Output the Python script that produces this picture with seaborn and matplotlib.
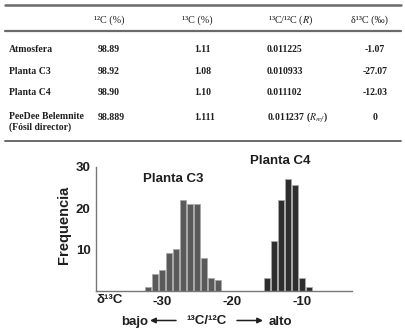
import matplotlib
matplotlib.use("Agg")
import matplotlib.pyplot as plt
from matplotlib.lines import Line2D
from matplotlib.patches import FancyArrowPatch
import seaborn as sns
import pandas as pd

# Isotope table
col_headers = ["\u00b9\u00b2C (%)", "\u00b9\u00b3C (%)", "\u00b9\u00b3C/\u00b9\u00b2C ($R$)", "\u03b4\u00b9\u00b3C (\u2030)"]
row_labels = ["Atmosfera", "Planta C3", "Planta C4", "PeeDee Belemnite\n(F\u00f3sil director)"]
c12_pct = ["98.89", "98.92", "98.90", "98.889"]
c13_pct = ["1.11", "1.08", "1.10", "1.111"]
ratio_r = ["0.011225", "0.010933", "0.011102", "0.011237 ($R_{ref}$)"]
delta13 = ["-1.07", "-27.07", "-12.03", "0"]

# Histogram of delta13C values (1 per-mil bins)
c3_bins = [-32, -31, -30, -29, -28, -27, -26, -25, -24, -23, -22]
c3_freq = [1, 4, 5, 9, 10, 22, 21, 21, 8, 3, 2.5]
c4_bins = [-15, -14, -13, -12, -11, -10, -9]
c4_freq = [3, 12, 22, 27, 25.5, 3, 1]
x_ticks = [-30, -20, -10]
y_ticks = [10, 20, 30]

W, H = 406, 334
sns.set_theme(style="white")
plt.rcParams["mathtext.fontset"] = "stix"
plt.rcParams["axes.unicode_minus"] = False
plt.rcParams["font.family"] = ["Liberation Sans", "DejaVu Sans"]

fig = plt.figure(figsize=(W / 100, H / 100), dpi=100)
fig.patch.set_facecolor("white")


def fx(px):
    return px / W


def fy(py):
    return 1 - py / H


serif = ["Liberation Serif", "DejaVu Serif"]
tcol = "#1e1e1e"

# table rules
for y, lw in [(5, 1.8), (30.7, 1.6), (140.5, 1.4)]:
    fig.add_artist(Line2D([fx(5), fx(401)], [fy(y), fy(y)], color="#6a6a6a", lw=lw))

# header row
header_x = [109, 197, 291, 370]
for x, h in zip(header_x, col_headers):
    fig.text(fx(x), fy(20), h, ha="center", va="center", family=serif,
             fontsize=7.3, color=tcol)

row_y = [50, 71, 93, 122]
for y, lab, a, b, r, d in zip(row_y, row_labels, c12_pct, c13_pct, ratio_r, delta13):
    fig.text(fx(9), fy(y), lab, ha="left", va="center", family=serif,
             fontsize=7, fontweight="bold", color=tcol, linespacing=1.25)
    yy = fy(y if "\n" not in lab else 117)
    fig.text(fx(98), yy, a, ha="left", va="center", family=serif,
             fontsize=7, fontweight="bold", color=tcol)
    fig.text(fx(194), yy, b, ha="left", va="center", family=serif,
             fontsize=7, fontweight="bold", color=tcol)
    fig.text(fx(267), yy, r, ha="left", va="center", family=serif,
             fontsize=7, fontweight="bold", color=tcol)
    fig.text(fx(375), yy, d, ha="center", va="center", family=serif,
             fontsize=7, fontweight="bold", color=tcol)

# histogram
df = pd.DataFrame({
    "delta": c3_bins + c4_bins,
    "freq": c3_freq + c4_freq,
    "planta": ["C3"] * len(c3_bins) + ["C4"] * len(c4_bins),
})

ax = fig.add_axes([fx(96), fy(290.7), (352 - 96) / W, (290.7 - 166.7) / H])
ax.set_facecolor("none")
sns.barplot(data=df, x="delta", y="freq", hue="planta", native_scale=True,
            dodge=False, width=0.8, palette={"C3": "#5a5a5a", "C4": "#2e2e2e"},
            edgecolor="#a8a8a8", linewidth=0.6, legend=False, errorbar=None, ax=ax)

ax.set_xlim(-39.4, -2.85)
ax.set_ylim(0, 30)
ax.set_xticks(x_ticks)
ax.set_yticks(y_ticks)
ax.set_xlabel("")
ax.set_ylabel("")
for side in ["top", "right"]:
    ax.spines[side].set_visible(False)
for side in ["left", "bottom"]:
    ax.spines[side].set_color("#777777")
    ax.spines[side].set_linewidth(1.0)
ax.tick_params(axis="both", direction="out", length=2.5, width=0.8, color="#777777",
               pad=1.5, labelsize=9.5, labelcolor=tcol)
for lab in ax.get_xticklabels() + ax.get_yticklabels():
    lab.set_fontweight("bold")

fig.text(fx(64.5), fy(225), "Frequencia", rotation=90, ha="center", va="center",
         fontsize=10.5, fontweight="bold", color=tcol)

ax.text(-28.4, 27.0, "Planta C3", ha="center", va="center", fontsize=9.5,
        fontweight="bold", color=tcol, clip_on=False)
ax.text(-13.1, 31.3, "Planta C4", ha="center", va="center", fontsize=9.5,
        fontweight="bold", color=tcol, clip_on=False)

# axis caption lines
fig.text(fx(97), fy(300), "\u03b4\u00b9\u00b3C", ha="left", va="center", fontsize=9.5,
         fontweight="bold", color=tcol)
fig.text(fx(148), fy(322), "bajo", ha="right", va="center", fontsize=9.5,
         fontweight="bold", color=tcol)
fig.text(fx(207), fy(321), "\u00b9\u00b3C/\u00b9\u00b2C", ha="center", va="center",
         fontsize=9.5, fontweight="bold", color=tcol)
fig.text(fx(269), fy(322), "alto", ha="left", va="center", fontsize=9.5,
         fontweight="bold", color=tcol)
arrow_kw = dict(arrowstyle="-|>", color=tcol, lw=1.1, mutation_scale=8, shrinkA=0, shrinkB=0)
fig.add_artist(FancyArrowPatch((fx(176), fy(320.5)), (fx(150), fy(320.5)),
                               transform=fig.transFigure, **arrow_kw))
fig.add_artist(FancyArrowPatch((fx(237), fy(320.5)), (fx(263), fy(320.5)),
                               transform=fig.transFigure, **arrow_kw))

fig.savefig("out.png", dpi=100, facecolor="white")
